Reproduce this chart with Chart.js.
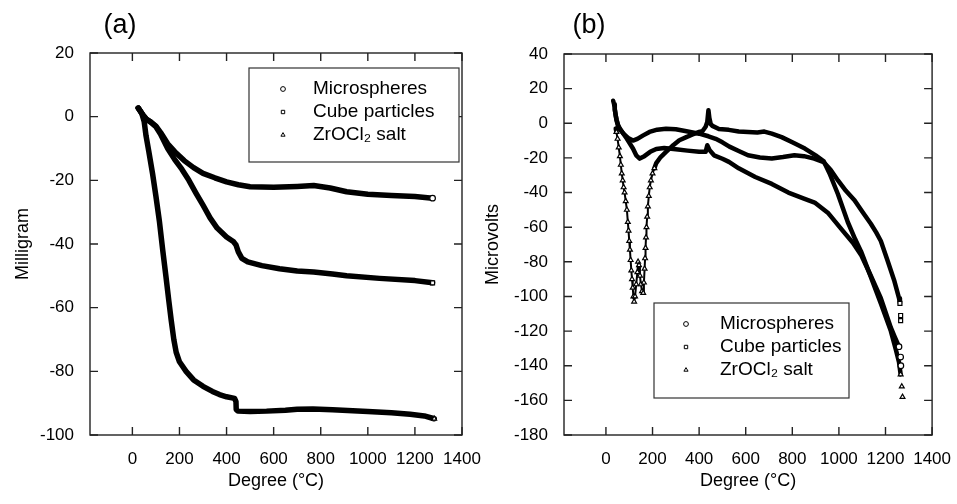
<!DOCTYPE html>
<html>
<head>
<meta charset="utf-8">
<script src="https://cdn.jsdelivr.net/npm/chart.js@4.4.1/dist/chart.umd.min.js"></script>
<style>
  html, body { margin: 0; padding: 0; background: #fff; }
  #wrap { position: relative; width: 957px; height: 504px; overflow: hidden; }
  .panel { position: absolute; top: 0; height: 504px; }
  #pa { left: 0; width: 500px; }
  #pb { left: 478px; width: 479px; }
</style>
</head>
<body>
<div id="wrap">
  <div class="panel" id="pa"><canvas id="chartA"></canvas></div>
  <div class="panel" id="pb"><canvas id="chartB"></canvas></div>
</div>
<script>
// tick labels
const degreeTicks = [0, 200, 400, 600, 800, 1000, 1200, 1400];
const mgTicks = [20, 0, -20, -40, -60, -80, -100];
const uvTicks = [40, 20, 0, -20, -40, -60, -80, -100, -120, -140, -160, -180];

const seriesNames = ['Microspheres', 'Cube particles', 'ZrOCl\u2082 salt'];

// (a) weight loss, [degree, milligram]
const tgaMicro = [[25,2.7],[45,0.5],[60,-0.8],[80,-1.8],[100,-3],[120,-5],[150,-8.5],[180,-11],[220,-13.8],
  [260,-16],[300,-17.8],[350,-19.2],[400,-20.5],[450,-21.4],[500,-22],[600,-22.2],[700,-21.9],[770,-21.6],
  [840,-22.4],[910,-23.6],[1000,-24.4],[1100,-24.8],[1200,-25.1],[1275,-25.6]];
const tgaCube = [[25,2.7],[45,0.5],[60,-0.8],[80,-1.8],[100,-3.2],[120,-5.5],[150,-10],[180,-13.5],[210,-16.5],
  [240,-20],[270,-24],[300,-27.8],[330,-31.8],[360,-35],[400,-37.8],[430,-39.3],[440,-40.3],[450,-42.5],
  [465,-44.5],[490,-45.6],[550,-46.8],[625,-47.8],[700,-48.5],[770,-48.8],[850,-49.4],[910,-50],
  [1050,-50.8],[1200,-51.5],[1275,-52.2]];
const tgaSalt = [[25,2.7],[40,1],[50,-1.5],[58,-6],[70,-11],[86,-18],[100,-25],[115,-33],[129,-42],[143,-50.5],
  [155,-58],[165,-64],[176,-70],[186,-74],[200,-77],[228,-80],[260,-82.7],[300,-84.7],[340,-86.3],[370,-87.3],
  [400,-88],[434,-88.5],[440,-89.5],[441,-92],[448,-92.5],[500,-92.6],[570,-92.5],[650,-92.2],[700,-91.9],
  [767,-91.8],[850,-92.1],[1000,-92.6],[1100,-93],[1180,-93.5],[1240,-94],[1282,-94.9]];

// (b) DTA, [degree, microvolts]
const dtaMicro = [[38,8],[45,2],[52,-1.5],[70,-5],[90,-9],[116,-14.6],[130,-18.5],[145,-20.4],[165,-19],
  [190,-16.5],[216,-14.8],[250,-14.3],[300,-15],[350,-15.8],[400,-16.5],[428,-16.5],[435,-12.7],[445,-15.5],
  [464,-18.5],[500,-20.5],[528,-22.3],[570,-26],[641,-31],[712,-35],[783,-40],[850,-43.5],[896,-45.8],
  [955,-52],[1016,-62],[1060,-69],[1095,-76],[1137,-88],[1180,-101],[1223,-118],[1240,-123.5],[1258,-129],
  [1265,-135],[1266,-140]];
const dtaCube = [[31,13],[35,11],[38,8],[42,4.5],[46,2],[52,-1],[60,-3.5],[75,-6],[95,-8.5],[116,-10],[135,-9],
  [160,-7],[187,-5],[220,-3.7],[258,-3.1],[300,-3.5],[340,-4.5],[400,-6],[440,-7.5],[471,-9],[500,-11],
  [530,-13.5],[570,-16],[610,-18.5],[661,-19.8],[712,-20.3],[760,-19.5],[809,-18.5],[850,-19],[894,-20.4],
  [935,-22.5],[965,-27],[996,-33],[1030,-39],[1067,-44.5],[1100,-51],[1137,-58],[1160,-63],[1180,-68],
  [1208,-79],[1237,-90.6],[1258,-101],[1262,-104],[1265,-111],[1265,-114]];
const dtaSalt = [[42,-3],[45,-5],[50,-9],[55,-14],[60,-19],[64,-24],[68,-29],[72,-33],[76,-37],[80,-40],[85,-45],
  [90,-50],[94,-57],[97,-62],[100,-68],[103,-73],[106,-79],[109,-85],[112,-90],[115,-95],[118,-100],[121,-103],
  [125,-100],[130,-93],[135,-86],[138,-80],[142,-82],[146,-88],[150,-93],[155,-97],[160,-98],[163,-92],
  [166,-84],[168,-78],[170,-72],[172,-66],[174,-60],[177,-54],[180,-48],[184,-42],[188,-37],[193,-33],
  [200,-29],[208,-26],[216,-23],[235,-19.5],[258,-16.5],[290,-12.5],[315,-9.8],[345,-8],[372,-6.5],[400,-5],
  [414,-4.6],[428,-2],[435,0.8],[440,7.5],[444,3],[450,-0.5],[457,-1.5],[485,-3.3],[527,-3.8],[570,-4.8],
  [610,-5],[650,-5.3],[680,-4.8],[712,-6],[754,-8],[800,-11],[854,-14.6],[900,-18.5],[935,-22],[960,-29],
  [996,-41],[1038,-57],[1070,-67],[1095,-74],[1137,-88.7],[1180,-104],[1223,-120],[1245,-131],[1258,-138],
  [1265,-145],[1270,-152],[1273,-158]];

const FONT = "'Liberation Sans', Arial, Helvetica, sans-serif";
const tickFont = { family: FONT, size: 17 };
const titleFont = { family: FONT, size: 18 };
const styles = ['circle', 'rect', 'triangle'];

function toXY(pts) { return pts.map(p => ({ x: p[0], y: p[1] })); }

// line through the points; loose points at the end (and an optional sparse range) shown as markers
function series(i, pts, width, loose, sparse) {
  const n = pts.length;
  const isSparse = x => sparse && x >= sparse[0] && x <= sparse[1];
  return {
    label: seriesNames[i],
    data: toXY(pts),
    showLine: true,
    borderColor: '#000',
    borderWidth: width,
    borderJoinStyle: 'round',
    borderCapStyle: 'round',
    pointStyle: styles[i],
    pointBackgroundColor: '#fff',
    pointBorderColor: '#000',
    pointBorderWidth: 1.2,
    pointRadius: ctx => (ctx.dataIndex >= n - 1 - loose || isSparse(pts[ctx.dataIndex][0])) ? 2.8 : 0,
    segment: {
      borderColor: ctx => ctx.p1DataIndex > n - 1 - loose ? 'rgba(0,0,0,0)' : '#000',
      borderWidth: ctx => (isSparse(ctx.p0.parsed.x) && isSparse(ctx.p1.parsed.x)) ? 2 : width
    }
  };
}

const framePlugin = {
  id: 'frame',
  afterDraw(chart, args, o) {
    const { ctx, chartArea: a, scales: { x, y } } = chart;
    ctx.save();
    ctx.strokeStyle = '#222';
    ctx.lineWidth = 1.4;
    ctx.strokeRect(a.left, a.top, a.right - a.left, a.bottom - a.top);
    const L = 8;
    ctx.beginPath();
    x.ticks.forEach(t => {
      const px = x.getPixelForValue(t.value);
      ctx.moveTo(px, a.bottom); ctx.lineTo(px, a.bottom - L);
      ctx.moveTo(px, a.top); ctx.lineTo(px, a.top + L);
    });
    y.ticks.forEach(t => {
      const py = y.getPixelForValue(t.value);
      ctx.moveTo(a.left, py); ctx.lineTo(a.left + L, py);
      ctx.moveTo(a.right, py); ctx.lineTo(a.right - L, py);
    });
    ctx.stroke();

    // panel letter
    ctx.fillStyle = '#000';
    ctx.font = '27px ' + FONT;
    ctx.textAlign = 'center';
    ctx.textBaseline = 'middle';
    ctx.fillText(o.letter, o.letterX, o.letterY);

    // legend box
    const b = o.box;
    ctx.fillStyle = '#fff';
    ctx.fillRect(b[0], b[1], b[2], b[3]);
    ctx.lineWidth = 1.2;
    ctx.strokeStyle = '#333';
    ctx.strokeRect(b[0], b[1], b[2], b[3]);
    ctx.font = '19px ' + FONT;
    ctx.textAlign = 'left';
    chart.data.datasets.forEach((ds, i) => {
      const ry = o.rows[i];
      ctx.lineWidth = 1;
      ctx.strokeStyle = '#000';
      ctx.fillStyle = '#fff';
      Chart.helpers.drawPoint(ctx, { pointStyle: ds.pointStyle, radius: 2.4, borderWidth: 1, rotation: 0 }, o.markX, ry);
      ctx.fillStyle = '#000';
      ctx.fillText(ds.label, o.textX, ry);
    });
    ctx.restore();
  }
};

function makeChart(id, sets, yMin, yMax, yTicks, yTitle, yWidth, yTitlePad, pad, frame) {
  return new Chart(id, {
    type: 'scatter',
    data: { datasets: sets },
    plugins: [framePlugin],
    options: {
      responsive: true,
      maintainAspectRatio: false,
      animation: false,
      layout: { padding: pad },
      plugins: { legend: { display: false }, tooltip: { enabled: false }, frame: frame },
      scales: {
        x: {
          type: 'linear', min: -180, max: 1400,
          afterBuildTicks: s => { s.ticks = degreeTicks.map(v => ({ value: v })); },
          grid: { display: false }, border: { display: false },
          ticks: { color: '#000', font: tickFont, padding: 6, maxRotation: 0, autoSkip: false, callback: v => String(v) },
          title: { display: true, text: 'Degree (\u00B0C)', color: '#000', font: titleFont, padding: { top: 0, bottom: 12 } },
          afterFit: s => { s.height = 69; }
        },
        y: {
          type: 'linear', min: yMin, max: yMax,
          afterBuildTicks: s => { s.ticks = yTicks.map(v => ({ value: v })); },
          grid: { display: false }, border: { display: false },
          ticks: { color: '#000', font: tickFont, padding: 8, autoSkip: false, callback: v => String(v) },
          title: { display: true, text: yTitle, color: '#000', font: titleFont, padding: { top: yTitlePad, bottom: 0 } },
          afterFit: s => { s.width = yWidth; }
        }
      }
    }
  });
}

makeChart('chartA',
  [series(0, tgaMicro, 5.5, 0), series(1, tgaCube, 5.5, 0), series(2, tgaSalt, 5.5, 0)],
  -100, 20, mgTicks, 'Milligram', 90, 12,
  { top: 53, right: 38, bottom: 0, left: 0 },
  { letter: '(a)', letterX: 120, letterY: 26, box: [249, 68, 210, 94], rows: [89, 112, 135], markX: 283, textX: 313 });

makeChart('chartB',
  [series(0, dtaMicro, 4.5, 2), series(1, dtaCube, 4.5, 2), series(2, dtaSalt, 4.5, 2, [44, 214])],
  -180, 40, uvTicks, 'Microvolts', 86, 4,
  { top: 54, right: 23, bottom: 0, left: 0 },
  { letter: '(b)', letterX: 111, letterY: 26, box: [176, 303, 195, 95], rows: [324, 347, 370], markX: 208, textX: 242 });
</script>
</body>
</html>
